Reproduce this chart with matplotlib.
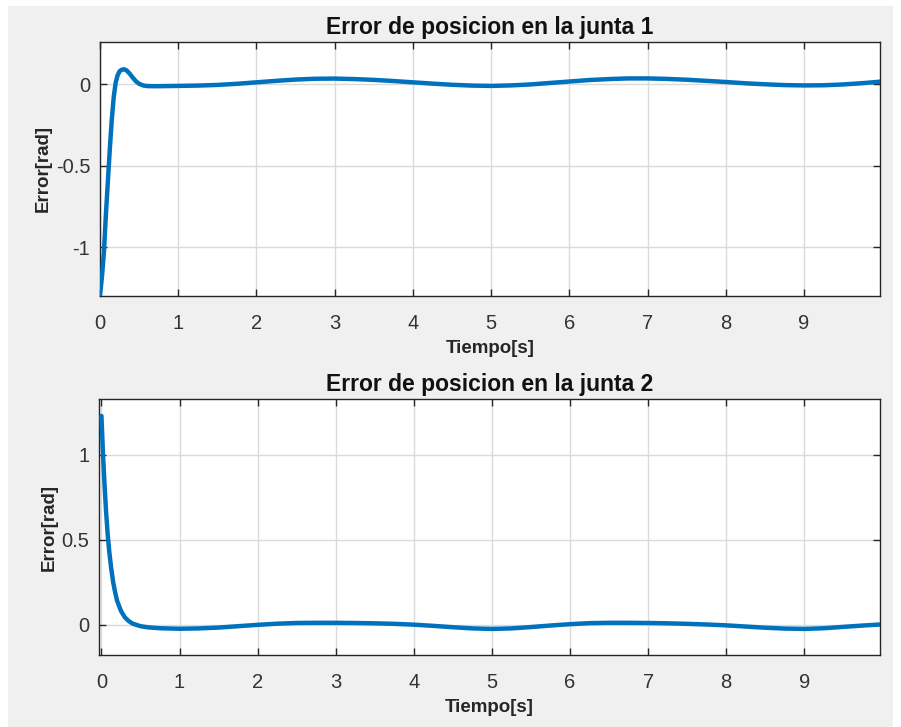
import matplotlib.pyplot as plt
from matplotlib.patches import Rectangle

# joint 1 position error [rad]
t1 = [0.0, 0.025, 0.05, 0.075, 0.10, 0.125, 0.15, 0.175, 0.20, 0.225, 0.25, 0.28,
      0.31, 0.34, 0.38, 0.42, 0.46, 0.50, 0.55, 0.60, 0.70, 0.85,
      1.00, 1.25, 1.50, 1.75, 2.00, 2.25, 2.50, 2.75, 3.00, 3.25, 3.50, 3.75,
      4.00, 4.25, 4.50, 4.75, 5.00, 5.25, 5.50, 5.75, 6.00, 6.25, 6.50, 6.75,
      7.00, 7.25, 7.50, 7.75, 8.00, 8.25, 8.50, 8.75, 9.00, 9.25, 9.50, 9.75, 9.97]
err1 = [-1.30, -1.18, -1.03, -0.80, -0.60, -0.40, -0.22, -0.08, 0.01, 0.055, 0.08, 0.09,
        0.092, 0.085, 0.065, 0.04, 0.018, 0.003, -0.007, -0.011, -0.012, -0.011,
        -0.010, -0.008, -0.004, 0.003, 0.012, 0.021, 0.029, 0.034, 0.035, 0.032, 0.027, 0.020,
        0.012, 0.004, -0.003, -0.008, -0.010, -0.007, -0.001, 0.008, 0.017, 0.026, 0.032, 0.036,
        0.036, 0.033, 0.028, 0.021, 0.014, 0.006, 0.000, -0.005, -0.007, -0.006, -0.001, 0.007, 0.016]

# joint 2 position error [rad]
t2 = [0.0, 0.02, 0.04, 0.06, 0.08, 0.10, 0.125, 0.15, 0.175, 0.20, 0.25, 0.30,
      0.35, 0.40, 0.50, 0.60, 0.75,
      1.00, 1.25, 1.50, 1.75, 2.00, 2.25, 2.50, 2.75, 3.00, 3.25, 3.50, 3.75,
      4.00, 4.25, 4.50, 4.75, 5.00, 5.25, 5.50, 5.75, 6.00, 6.25, 6.50, 6.75,
      7.00, 7.25, 7.50, 7.75, 8.00, 8.25, 8.50, 8.75, 9.00, 9.25, 9.50, 9.75, 9.97]
err2 = [1.23, 1.00, 0.82, 0.66, 0.53, 0.43, 0.33, 0.25, 0.19, 0.14, 0.08, 0.042,
        0.02, 0.005, -0.01, -0.017, -0.022,
        -0.025, -0.023, -0.018, -0.010, -0.002, 0.005, 0.009, 0.010, 0.010, 0.009, 0.007, 0.004,
        -0.001, -0.008, -0.016, -0.023, -0.026, -0.023, -0.015, -0.006, 0.002, 0.008, 0.010, 0.010,
        0.009, 0.007, 0.004, 0.000, -0.005, -0.012, -0.019, -0.024, -0.026, -0.022, -0.014, -0.006, 0.000]

titles = ['Error de posicion en la junta 1', 'Error de posicion en la junta 2']
xticks = list(range(10))
yticks1 = [-1, -0.5, 0]
yticks2 = [0, 0.5, 1]

LINE = '#0072BD'
TXT = '#262626'

plt.rcParams['font.family'] = ['Liberation Sans', 'DejaVu Sans']

fig = plt.figure(figsize=(9.01, 7.27), dpi=100, facecolor='white')
fig.patches.append(Rectangle((8 / 901, 0), 885 / 901, 721 / 727,
                             transform=fig.transFigure, facecolor='#f0f0f0',
                             edgecolor='none', zorder=-10))

ax1 = fig.add_axes([0.111, 0.5929, 0.8657, 0.3494])
ax2 = fig.add_axes([0.110, 0.0990, 0.8668, 0.3522])


def style(ax, t, err, title, yticks, ylim, xlim):
    ax.plot(t, err, color=LINE, lw=3.2, solid_capstyle='round', zorder=3)
    ax.set_xlim(*xlim)
    ax.set_ylim(*ylim)
    ax.set_xticks(xticks)
    ax.set_yticks(yticks)
    ax.set_yticklabels([('%g' % v) for v in yticks])
    ax.grid(True, color='#dadada', lw=1.0)
    ax.set_axisbelow(True)
    for s in ax.spines.values():
        s.set_color(TXT)
        s.set_linewidth(1.0)
    ax.tick_params(direction='in', length=5, width=1.0, color=TXT,
                   top=True, right=True, labelcolor='#333333', labelsize=14.5)
    ax.tick_params(axis='x', pad=13)
    ax.tick_params(axis='y', pad=7)
    ax.set_title(title, fontsize=16.5, fontweight='bold', color='#111111', pad=6)
    ax.set_xlabel('Tiempo[s]', fontsize=13.5, fontweight='bold', color=TXT, labelpad=5)
    ax.set_ylabel('Error[rad]', fontsize=13.5, fontweight='bold', color=TXT, labelpad=3)


style(ax1, t1, err1, titles[0], yticks1, (-1.30, 0.26), (0, 9.97))
style(ax2, t2, err2, titles[1], yticks2, (-0.18, 1.33), (-0.03, 9.97))

fig.savefig('out.png', dpi=100, facecolor=fig.get_facecolor())
